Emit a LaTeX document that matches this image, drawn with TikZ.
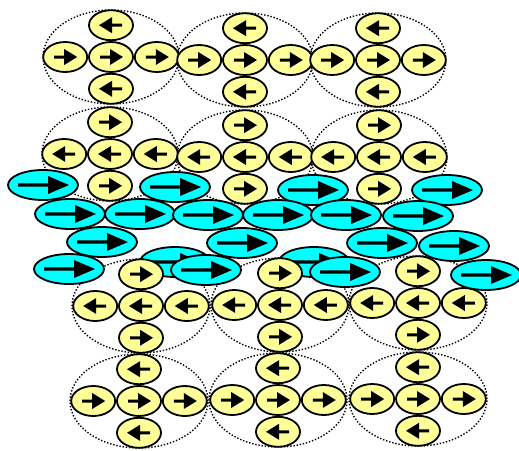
\documentclass[tikz,border=0pt]{standalone}
\usetikzlibrary{positioning,shapes.geometric}
\definecolor{pale}{RGB}{255,255,153}
\definecolor{aqua}{RGB}{0,255,255}

\begin{document}
\begin{tikzpicture}[
    x=1pt, y=-1pt,
    node distance=0pt,
    ring/.style={draw, dash pattern=on 1.4pt off 1.8pt, line width=1.4pt, ellipse, inner sep=0pt, minimum width=136pt, minimum height=94pt},
    spin/.style={draw, ellipse, line width=1.8pt, fill=pale, inner sep=0pt, minimum width=44pt, minimum height=30pt},
    right spin/.style={spin, path picture={\fill[black, shift={(path picture bounding box.center)}] (-11,-1.5) -- (-1,-1.5) -- (-1,-8) -- (12,0) -- (-1,8) -- (-1,1.5) -- (-11,1.5) -- cycle;}},
    left spin/.style={spin, path picture={\fill[black, shift={(path picture bounding box.center)}] (11,-1.5) -- (1,-1.5) -- (1,-8) -- (-12,0) -- (1,8) -- (1,1.5) -- (11,1.5) -- cycle;}},
    flow/.style={draw, ellipse, line width=1.8pt, fill=aqua, inner sep=0pt, minimum width=70pt, minimum height=30pt, path picture={\fill[black, shift={(path picture bounding box.center)}] (-25,-1.6) -- (5,-1.6) -- (5,-9) -- (26,0) -- (5,9) -- (5,1.6) -- (-25,1.6) -- cycle;}}
  ]
    \useasboundingbox (0,0) rectangle (519,450);

    % dotted outlines
    \node[ring] (a1ring) at (111,57) {};
    \node[ring] (a2ring) at (245,60) {};
    \node[ring] (a3ring) at (378,60) {};
    \node[ring] (b1ring) at (110,154) {};
    \node[ring] (b2ring) at (245,157) {};
    \node[ring] (b3ring) at (379,157) {};
    \node[ring, minimum width=138pt] (c1ring) at (141,306) {};
    \node[ring, minimum width=138pt] (c2ring) at (280,305) {};
    \node[ring, minimum width=138pt] (c3ring) at (418,303) {};
    \node[ring, minimum width=138pt] (d1ring) at (139,401) {};
    \node[ring, minimum width=138pt] (d2ring) at (278,400) {};
    \node[ring, minimum width=138pt] (d3ring) at (418,399) {};

    % partly covered
    \node[flow] (h1) at (175,262) {};
    \node[flow] (h2) at (314,262) {};

    % top row
    \node[right spin] (a1) at (a1ring) {};
    \node[left spin, above=of a1] (a1n) {};
    \node[left spin, below=of a1] (a1s) {};
    \node[right spin, left=of a1] (a1w) {};
    \node[right spin, right=of a1] (a1e) {};

    \node[right spin] (a2) at (a2ring) {};
    \node[left spin, above=of a2] (a2n) {};
    \node[left spin, below=of a2] (a2s) {};
    \node[right spin, left=of a2] (a2w) {};
    \node[right spin, right=of a2] (a2e) {};

    \node[right spin] (a3) at (a3ring) {};
    \node[left spin, above=of a3] (a3n) {};
    \node[left spin, below=of a3] (a3s) {};
    \node[right spin, left=of a3] (a3w) {};
    \node[right spin, right=of a3] (a3e) {};

    % second row
    \node[left spin] (b1) at (b1ring) {};
    \node[right spin, above=of b1] (b1n) {};
    \node[right spin, below=of b1] (b1s) {};
    \node[left spin, left=of b1] (b1w) {};
    \node[left spin, right=of b1] (b1e) {};

    \node[left spin] (b2) at (b2ring) {};
    \node[right spin, above=of b2] (b2n) {};
    \node[right spin, below=of b2] (b2s) {};
    \node[left spin, left=of b2] (b2w) {};
    \node[left spin, right=of b2] (b2e) {};

    \node[left spin] (b3) at (b3ring) {};
    \node[right spin, above=of b3] (b3n) {};
    \node[right spin, below=of b3] (b3s) {};
    \node[left spin, left=of b3] (b3w) {};
    \node[left spin, right=of b3] (b3e) {};

    % third row
    \node[left spin] (c1) at (c1ring) {};
    \node[right spin, above=of c1] (c1n) {};
    \node[right spin, below=of c1] (c1s) {};
    \node[left spin, left=of c1] (c1w) {};
    \node[left spin, right=of c1] (c1e) {};

    \node[left spin] (c2) at (c2ring) {};
    \node[right spin, above=of c2] (c2n) {};
    \node[right spin, below=of c2] (c2s) {};
    \node[left spin, left=of c2] (c2w) {};
    \node[left spin, right=of c2] (c2e) {};

    \node[left spin] (c3) at (c3ring) {};
    \node[right spin, above=of c3] (c3n) {};
    \node[right spin, below=of c3] (c3s) {};
    \node[left spin, left=of c3] (c3w) {};
    \node[left spin, right=of c3] (c3e) {};

    % bottom row
    \node[right spin] (d1) at (d1ring) {};
    \node[left spin, above=of d1] (d1n) {};
    \node[left spin, below=of d1] (d1s) {};
    \node[right spin, left=of d1] (d1w) {};
    \node[right spin, right=of d1] (d1e) {};

    \node[right spin] (d2) at (d2ring) {};
    \node[left spin, above=of d2] (d2n) {};
    \node[left spin, below=of d2] (d2s) {};
    \node[right spin, left=of d2] (d2w) {};
    \node[right spin, right=of d2] (d2e) {};

    \node[right spin] (d3) at (d3ring) {};
    \node[left spin, above=of d3] (d3n) {};
    \node[left spin, below=of d3] (d3s) {};
    \node[right spin, left=of d3] (d3w) {};
    \node[right spin, right=of d3] (d3e) {};

    % current layer
    \node[flow] (fa1) at (43,185) {};
    \node[flow] (fa2) at (175,187) {};
    \node[flow] (fa3) at (313,190) {};
    \node[flow] (fa4) at (447,190) {};
    \node[flow] (fb1) at (70,214) {};
    \node[flow] (fb2) at (140,214) {};
    \node[flow] (fb3) at (208,215) {};
    \node[flow] (fb4) at (278,215) {};
    \node[flow] (fb5) at (346,215) {};
    \node[flow] (fb6) at (418,216) {};
    \node[flow] (fc1) at (102,242) {};
    \node[flow] (fc2) at (242,243) {};
    \node[flow] (fc3) at (382,243) {};
    \node[flow] (fc4) at (454,246) {};
    \node[flow] (fd1) at (69,269) {};
    \node[flow] (fd2) at (206,270) {};
    \node[flow] (fd3) at (345,272) {};
    \node[flow] (fd4) at (486,275) {};
  \end{tikzpicture}
\end{document}
